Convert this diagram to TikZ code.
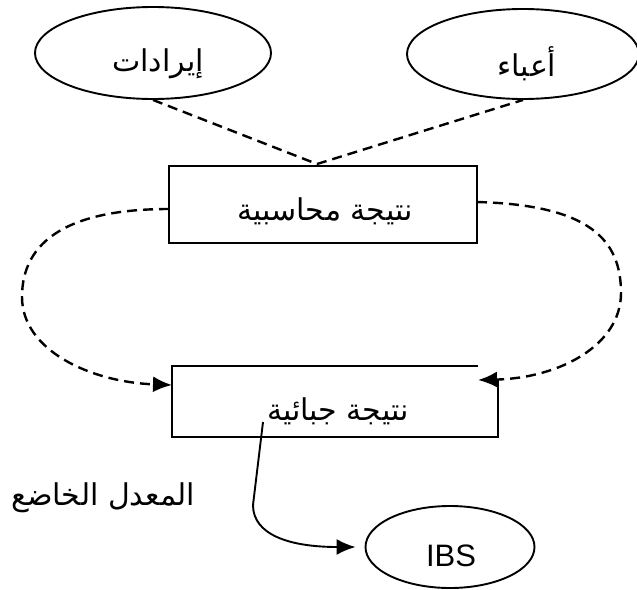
\documentclass[tikz,border=0pt]{standalone}
\usepackage{fontspec}
\setmainfont{Liberation Sans}
\newfontfamily\arabicfont[Script=Arabic]{DejaVu Sans}
\TeXXeTstate=1
\usetikzlibrary{arrows.meta,shapes.geometric,calc}

\tikzset{
  oval/.style={ellipse, draw, line width=1.9pt},
  boxshape/.style={draw=none, rectangle, inner sep=0pt},
  frame/.style={line width=1.9pt},
  ar/.style={font=\arabicfont\fontsize{30}{34}\selectfont, inner sep=0pt},
  flow/.style={line width=2.4pt, dash pattern=on 10pt off 6pt},
  tip/.style={-{Latex[length=19pt,width=16pt]}},
  link/.style={line width=1.9pt}
}

\begin{document}
\begin{tikzpicture}[x=1pt,y=-1pt]
  \useasboundingbox (0,0) rectangle (637,589);

  % source ellipses
  \node[oval, minimum width=236pt, minimum height=92pt] (rev) at (153,53) {};
  \node[ar] (revt) at (158,64) {\beginR إيرادات\endR};
  \node[oval, minimum width=232pt, minimum height=90pt] (chg) at (523,54) {};
  \node[ar] (chgt) at (527,64) {\beginR أعباء\endR};

  % accounting result box
  \node[boxshape, minimum width=308pt, minimum height=77pt] (acc) at (323,204.5) {};
  \draw[frame] (acc.north west) rectangle (acc.south east);
  \node[ar] (acct) at (325,211) {\beginR نتيجة محاسبية\endR};

  % tax result box (open at its upper right corner)
  \node[boxshape, minimum width=326pt, minimum height=71pt] (tax) at (335,401.5) {};
  \coordinate (taxin) at (478,380);
  \draw[frame] (taxin |- tax.north) -- (tax.north west) -- (tax.south west)
    -- (tax.south east) -- (tax.east |- taxin) -- ++(-6,0);
  \node[ar] (taxt) at (338,411) {\beginR نتيجة جبائية\endR};

  % IBS ellipse and rate label
  \node[oval, minimum width=169pt, minimum height=82pt] (ibs) at (450,547) {};
  \node[font=\fontsize{31}{35}\selectfont, inner sep=0pt] (ibst) at (451,556) {IBS};
  \node[ar] (rate) at (103,498) {\beginR المعدل الخاضع\endR};

  % dashed links into the accounting result
  \coordinate (meet) at (317,164);
  \draw[flow] (rev.south) -- (meet) -- (chg.south);

  % dashed loops from the accounting result to the tax result
  \coordinate (accl) at (169,209);
  \coordinate (accr) at (477,202);
  \coordinate (taxl) at (172,385);
  \draw[flow, tip] (accl) .. controls (70,209) and (22,240) .. (22,297)
    .. controls (22,350) and (90,382) .. (taxl);
  \draw[flow, tip] (accr) .. controls (590,205) and (621,240) .. (621,293)
    .. controls (621,345) and (560,378) .. (taxin);

  % solid arrow to IBS
  \coordinate (from) at (263,422);
  \coordinate (ibsin) at ($(ibs.west)+(-9,0)$);
  \draw[link, tip] (from) -- (253,505) .. controls (253,535) and (290,547) .. (ibsin);
\end{tikzpicture}
\end{document}
